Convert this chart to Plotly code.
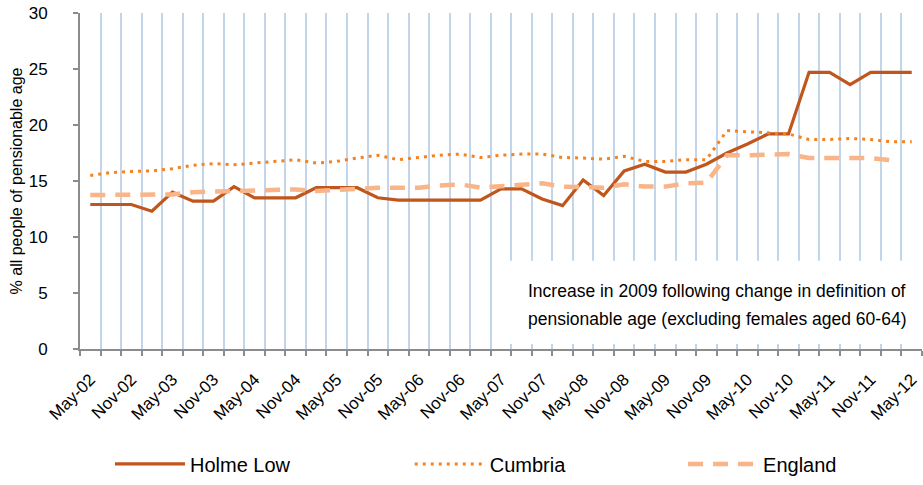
import plotly.graph_objects as go

quarters = [
    "May-02", "Aug-02", "Nov-02", "Feb-03", "May-03", "Aug-03", "Nov-03", "Feb-04",
    "May-04", "Aug-04", "Nov-04", "Feb-05", "May-05", "Aug-05", "Nov-05", "Feb-06",
    "May-06", "Aug-06", "Nov-06", "Feb-07", "May-07", "Aug-07", "Nov-07", "Feb-08",
    "May-08", "Aug-08", "Nov-08", "Feb-09", "May-09", "Aug-09", "Nov-09", "Feb-10",
    "May-10", "Aug-10", "Nov-10", "Feb-11", "May-11", "Aug-11", "Nov-11", "Feb-12",
    "May-12",
]
shown_labels = [q if q.startswith(("May", "Nov")) else "" for q in quarters]

holme_low = [12.9, 12.9, 12.9, 12.3, 14.0, 13.2, 13.2, 14.5, 13.5, 13.5, 13.5,
             14.4, 14.4, 14.4, 13.5, 13.3, 13.3, 13.3, 13.3, 13.3, 14.3, 14.3,
             13.4, 12.8, 15.1, 13.7, 15.9, 16.5, 15.8, 15.8, 16.5, 17.5, 18.3,
             19.2, 19.2, 24.7, 24.7, 23.6, 24.7, 24.7, 24.7]
cumbria = [15.5, 15.75, 15.85, 15.9, 16.1, 16.4, 16.55, 16.45, 16.6, 16.75, 16.9,
           16.6, 16.75, 17.05, 17.3, 16.9, 17.1, 17.3, 17.4, 17.1, 17.3, 17.4,
           17.4, 17.1, 17.05, 16.95, 17.2, 16.75, 16.75, 16.9, 16.9, 19.5, 19.4,
           19.3, 19.2, 18.7, 18.7, 18.8, 18.7, 18.5, 18.5]
england = [13.75, 13.75, 13.75, 13.75, 13.8, 14.0, 14.05, 14.0, 14.1, 14.2, 14.25,
           14.1, 14.2, 14.35, 14.4, 14.4, 14.4, 14.6, 14.7, 14.4, 14.5, 14.6,
           14.8, 14.5, 14.4, 14.4, 14.7, 14.5, 14.5, 14.8, 14.85, 17.3, 17.3,
           17.4, 17.4, 17.05, 17.05, 17.05, 17.05, 16.85, None]

note_lines = ["Increase in 2009 following change in definition of",
              "pensionable age (excluding females aged 60-64)"]

FONT = "Liberation Sans, Arial, sans-serif"
AXIS_GREY = "#8c8c8c"

fig = go.Figure()
fig.add_trace(go.Scatter(x=quarters, y=holme_low, name="Holme Low", mode="lines",
                         line=dict(color="#c0561b", width=3.2), legend="legend2"))
fig.add_trace(go.Scatter(x=quarters, y=cumbria, name="Cumbria", mode="lines",
                         line=dict(color="#f5821f", width=3, dash="3px,5px"),
                         legend="legend3"))
fig.add_trace(go.Scatter(x=quarters, y=england, name="England", mode="lines",
                         line=dict(color="#f9b488", width=4.5, dash="15px,10px"),
                         legend="legend4"))

leg_common = dict(orientation="h", yanchor="middle", y=-0.342, xanchor="left",
                  font=dict(family=FONT, size=20, color="#000"),
                  bgcolor="rgba(0,0,0,0)", itemwidth=70)
fig.update_layout(
    width=923, height=485,
    margin=dict(l=80, r=1, t=13, b=133),
    plot_bgcolor="white", paper_bgcolor="white",
    font=dict(family=FONT, size=17, color="#000"),
    showlegend=True,
    legend2=dict(x=0.0356, **leg_common),
    legend3=dict(x=0.3916, **leg_common),
    legend4=dict(x=0.7162, **leg_common),
    xaxis=dict(type="category", range=[-0.5, 40.5], tickmode="array",
               tickvals=quarters, ticktext=shown_labels, tickangle=-45,
               tickson="boundaries", ticks="outside", ticklen=5,
               tickcolor=AXIS_GREY, tickwidth=2, ticklabelstandoff=12,
               showline=True, linecolor=AXIS_GREY, linewidth=2,
               showgrid=True, gridcolor="#c3d5ea", gridwidth=2,
               tickfont=dict(size=17), automargin=False, fixedrange=True),
    yaxis=dict(range=[0, 30], dtick=5, tick0=0, ticks="outside", ticklen=5,
               tickcolor=AXIS_GREY, tickwidth=2,
               showline=True, linecolor=AXIS_GREY, linewidth=2,
               showgrid=False, zeroline=False, tickfont=dict(size=17),
               ticklabelstandoff=22, automargin=False, fixedrange=True,
               title=dict(text="% all people of pensionable age",
                          font=dict(size=16), standoff=2)),
)

fig.add_shape(type="rect", xref="paper", yref="paper", x0=0.505, x1=1.0,
              y0=0.0147, y1=0.2625, fillcolor="white", line_width=0, layer="above")
for txt, yy in zip(note_lines, [0.174, 0.0885]):
    fig.add_annotation(text=txt, xref="paper", yref="paper", x=0.5297, y=yy,
                       xanchor="left", yanchor="middle", showarrow=False,
                       font=dict(family=FONT, size=17.5, color="#000"))

# remove the browser's default body margin so the figure fills the window exactly
page_js = ("document.documentElement.style.margin='0';"
           "document.body.style.margin='0';"
           "document.body.style.height='485px';"
           "document.documentElement.style.overflow='hidden';"
           "document.body.style.overflow='hidden';")
fig.write_html("out.html", post_script=page_js,
               config={"displayModeBar": False, "staticPlot": True})
